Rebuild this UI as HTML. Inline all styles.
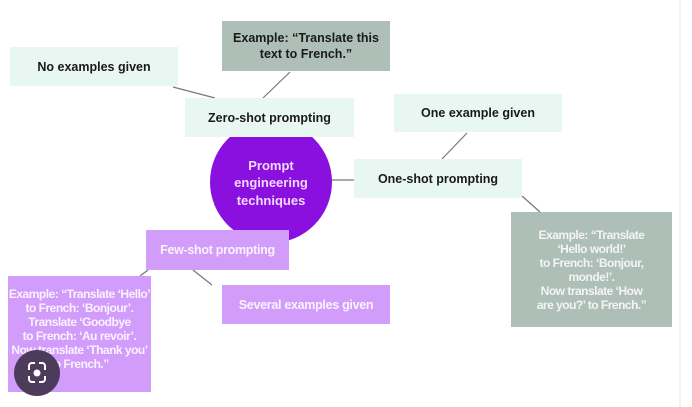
<!DOCTYPE html>
<html><head><meta charset="utf-8"><style>
body{margin:0;width:692px;height:407px;background:#fff;position:relative;overflow:hidden;font-family:"Liberation Sans",sans-serif;font-weight:bold;}
.b{position:absolute;display:flex;align-items:center;justify-content:center;text-align:center;font-size:12.5px;line-height:16px;box-sizing:border-box;white-space:nowrap;}
.m{background:#e9f7f3;color:#1a1a1a;}
.g{background:#aebfb8;color:#f4f4f4;}
.p{background:#d29cfb;color:#fbf2ff;}
.gt{background:#aebfb8;color:#1a1a1a;}
.c{font-size:12px;letter-spacing:-0.5px;line-height:14px;}
</style></head><body>
<svg width="692" height="407" style="position:absolute;left:0;top:0">
<g stroke="#777" stroke-width="1.2">
<line x1="173" y1="87" x2="215" y2="98"/>
<line x1="290" y1="72" x2="263" y2="98"/>
<line x1="330" y1="180" x2="354" y2="180"/>
<line x1="467" y1="133" x2="442" y2="159"/>
<line x1="522" y1="196" x2="540" y2="212"/>
<line x1="148" y1="270" x2="140" y2="276"/>
<line x1="193" y1="270" x2="212" y2="285"/>
</g>
<line x1="680" y1="0" x2="680" y2="407" stroke="#e4e4e4" stroke-width="1"/>
<circle cx="271" cy="182" r="61" fill="#8a10e0"/>
</svg>
<div class="b m" style="left:10px;top:47px;width:168px;height:39px">No examples given</div>
<div class="b gt" style="left:222px;top:21px;width:168px;height:50px">Example: “Translate this<br>text to French.”</div>
<div class="b m" style="left:185px;top:98px;width:169px;height:39px">Zero-shot prompting</div>
<div class="b" style="left:210px;top:155px;width:122px;height:56px;color:#f5d8ff;font-size:13px;line-height:17.5px">Prompt<br>engineering<br>techniques</div>
<div class="b m" style="left:394px;top:94px;width:168px;height:38px">One example given</div>
<div class="b m" style="left:354px;top:159px;width:168px;height:39px">One-shot prompting</div>
<div class="b g c" style="left:511px;top:212px;width:161px;height:115px">Example: “Translate<br>‘Hello world!’<br>to French: ‘Bonjour,<br>monde!’.<br>Now translate ‘How<br>are you?’ to French.”</div>
<div class="b p" style="left:146px;top:230px;width:143px;height:40px;letter-spacing:-0.3px">Few-shot prompting</div>
<div class="b p c" style="left:8px;top:276px;width:143px;height:116px;padding-bottom:10px">Example: “Translate ‘Hello’<br>to French: ‘Bonjour’.<br>Translate ‘Goodbye<br>to French: ‘Au revoir’.<br>Now translate ‘Thank you’<br>to French.”</div>
<div class="b p" style="left:222px;top:285px;width:168px;height:39px;letter-spacing:-0.3px">Several examples given</div>
<svg width="692" height="407" style="position:absolute;left:0;top:0">
<circle cx="37" cy="373" r="23" fill="#4d3b5c"/>
<path d="M29 370v-4a3 3 0 0 1 3-3h3M39 363h3a3 3 0 0 1 3 3v4M45 376v3a3 3 0 0 1-3 3h-3M35 382h-3a3 3 0 0 1-3-3v-3" fill="none" stroke="#fff" stroke-width="2"/>
<circle cx="37" cy="373" r="3.5" fill="#fff"/>
</svg>
</body></html>
